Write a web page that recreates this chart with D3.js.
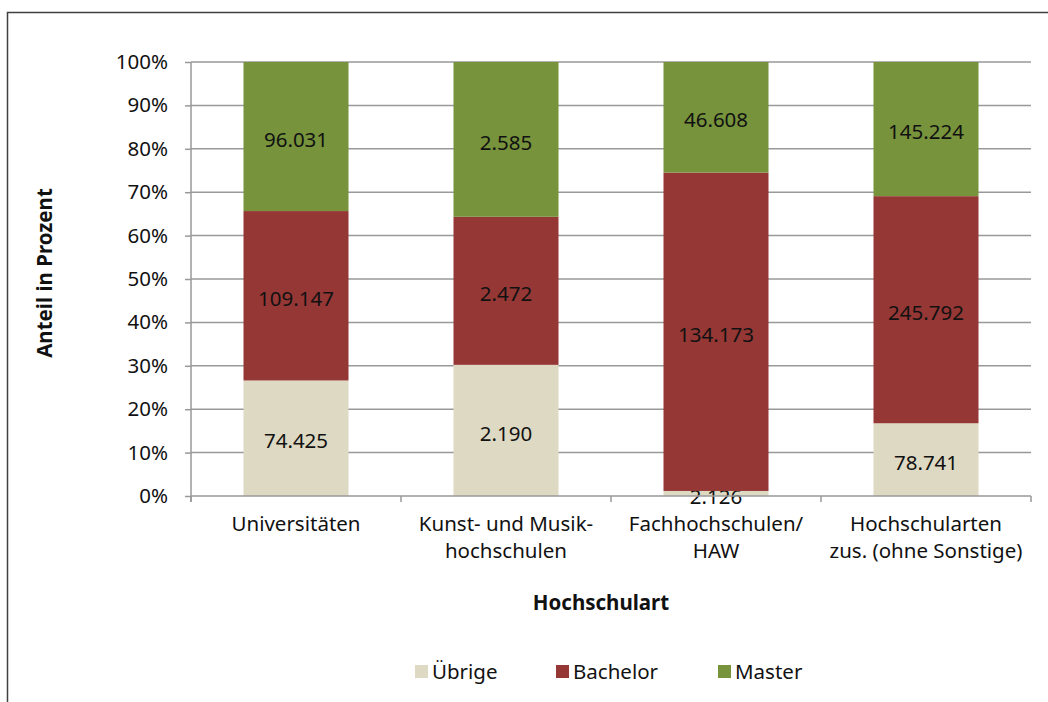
<!DOCTYPE html>
<html>
<head>
<meta charset="utf-8">
<script src="https://cdn.jsdelivr.net/npm/d3@7"></script>
<style>
  body { margin: 0; background: #fff; }
  text { font-family: "Noto Sans", "Open Sans", sans-serif; fill: #111; }
</style>
</head>
<body>
<div id="chart"></div>
<script>
// categories (line-broken labels) and counts per series
const categories = ["Universitäten", "Kunst- und Musik-|hochschulen", "Fachhochschulen/|HAW", "Hochschularten|zus. (ohne Sonstige)"];
const uebrige  = [74425, 2190, 2126, 78741];
const bachelor = [109147, 2472, 134173, 245792];
const master   = [96031, 2585, 46608, 145224];
const seriesNames = ["Übrige", "Bachelor", "Master"];
const yTicks = [0, 0.1, 0.2, 0.3, 0.4, 0.5, 0.6, 0.7, 0.8, 0.9, 1];

const colors = {"Übrige": "#ddd9c3", "Bachelor": "#953735", "Master": "#77933c"};

const W = 1048, H = 702;
const m = {left: 191, right: 1031, top: 62, bottom: 496};
const fs = "20.5px";

const svg = d3.select("#chart").append("svg")
    .attr("width", W)
    .attr("height", H);

// outer frame (runs off right and bottom edges like the reference)
svg.append("rect")
    .attr("x", 7.5).attr("y", 12.5)
    .attr("width", W + 20).attr("height", H + 20)
    .attr("fill", "none")
    .attr("stroke", "#404040")
    .attr("stroke-width", 1.5);

// build table
const table = categories.map((c, i) => {
    const total = uebrige[i] + bachelor[i] + master[i];
    return {cat: c, "Übrige": uebrige[i], "Bachelor": bachelor[i], "Master": master[i], total: total};
});
const stack = d3.stack().keys(seriesNames)
    .value((d, k) => d[k] / d.total);
const series = stack(table);

const x = d3.scaleBand()
    .domain(categories)
    .range([m.left, m.right])
    .paddingInner(0.5)
    .paddingOuter(0.25);
const y = d3.scaleLinear()
    .domain([0, 1])
    .range([m.bottom, m.top]);

// gridlines
svg.append("g").selectAll("line")
    .data(yTicks.slice(1))
    .join("line")
    .attr("x1", m.left).attr("x2", m.right)
    .attr("y1", d => y(d)).attr("y2", d => y(d))
    .attr("stroke", "#999")
    .attr("stroke-width", 1.5);

// bars
const groups = svg.append("g").selectAll("g")
    .data(series)
    .join("g")
    .attr("fill", d => colors[d.key]);
groups.selectAll("rect")
    .data(d => d)
    .join("rect")
    .attr("x", d => x(d.data.cat))
    .attr("y", d => y(d[1]))
    .attr("width", x.bandwidth())
    .attr("height", d => y(d[0]) - y(d[1]));

// value labels
const fmt = d3.formatLocale({decimal: ",", thousands: ".", grouping: [3], currency: ["", " €"]}).format(",d");
groups.selectAll("text")
    .data(d => d.map(p => ({p: p, key: d.key})))
    .join("text")
    .attr("x", d => x(d.p.data.cat) + x.bandwidth() / 2)
    .attr("y", d => (y(d.p[0]) + y(d.p[1])) / 2 + 3)
    .attr("text-anchor", "middle")
    .attr("dy", "0.35em")
    .style("font-size", fs)
    .text(d => fmt(d.p.data[d.key]));

// y axis
const yAxis = svg.append("g")
    .attr("transform", `translate(${m.left},0)`)
    .call(d3.axisLeft(y).tickValues(yTicks).tickFormat(d3.format(".0%")).tickSize(6).tickPadding(17));
yAxis.select(".domain").attr("stroke", "#999").attr("stroke-width", 1.5).attr("d", `M0,${m.top}V${m.bottom + 6}`);
yAxis.selectAll(".tick line").attr("stroke", "#999").attr("stroke-width", 1.5);
yAxis.selectAll(".tick text").style("font-size", fs).style("font-family", "'Noto Sans', sans-serif").attr("fill", "#111");

// x axis line with boundary ticks
const xg = svg.append("g");
xg.append("line")
    .attr("x1", m.left).attr("x2", m.right)
    .attr("y1", m.bottom).attr("y2", m.bottom)
    .attr("stroke", "#999").attr("stroke-width", 1.5);
const step = x.step();
xg.selectAll("line.tk")
    .data(d3.range(categories.length + 1))
    .join("line")
    .attr("class", "tk")
    .attr("x1", i => m.left + i * step).attr("x2", i => m.left + i * step)
    .attr("y1", m.bottom).attr("y2", m.bottom + 6)
    .attr("stroke", "#999").attr("stroke-width", 1.5);

// category labels
const catLabels = xg.selectAll("text")
    .data(categories)
    .join("text")
    .attr("text-anchor", "middle")
    .style("font-size", fs);
catLabels.each(function(d) {
    const lines = d.split("|");
    d3.select(this).selectAll("tspan")
        .data(lines)
        .join("tspan")
        .attr("x", x(d) + x.bandwidth() / 2)
        .attr("y", (l, j) => 531 + j * 27)
        .text(l => l);
});

// axis titles
svg.append("text")
    .attr("x", m.left + (m.right - m.left) / 2 - 10)
    .attr("y", 610)
    .attr("text-anchor", "middle")
    .style("font-size", fs)
    .style("font-weight", "bold")
    .text("Hochschulart");
svg.append("text")
    .attr("transform", `translate(52,${(m.top + m.bottom) / 2 - 6}) rotate(-90)`)
    .attr("text-anchor", "middle")
    .style("font-size", fs)
    .style("font-weight", "bold")
    .text("Anteil in Prozent");

// legend
const legendX = [415, 556, 718];
const legend = svg.append("g").selectAll("g")
    .data(seriesNames)
    .join("g")
    .attr("transform", (d, i) => `translate(${legendX[i]},665)`);
legend.append("rect")
    .attr("width", 13).attr("height", 13)
    .attr("fill", d => colors[d]);
legend.append("text")
    .attr("x", 17).attr("y", 14)
    .style("font-size", fs)
    .text(d => d);
</script>
</body>
</html>
